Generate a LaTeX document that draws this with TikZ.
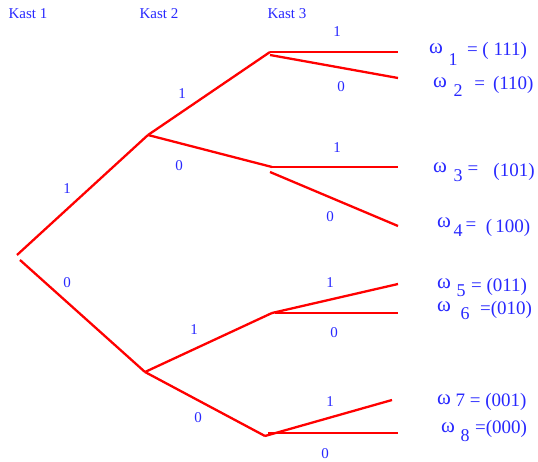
\documentclass[tikz,border=0pt]{standalone}
\usepackage{fontspec}
\setmainfont{Liberation Serif}
\usetikzlibrary{positioning}
\definecolor{lblBlue}{RGB}{40,40,255}
\tikzset{
  branch/.style={red, line width=2.3pt},
  kast/.style={lblBlue, font=\fontsize{15}{17}\selectfont, inner sep=0pt},
  bit/.style={lblBlue, font=\fontsize{15}{17}\selectfont, inner sep=0pt},
  omega/.style={lblBlue, font=\fontsize{19}{21}\selectfont, inner sep=0pt},
  omg/.style={lblBlue, font=\fontsize{21}{23}\selectfont, inner sep=0pt},
  sub/.style={lblBlue, font=\fontsize{18}{20}\selectfont, inner sep=0pt},
}

\begin{document}
\begin{tikzpicture}[x=1pt, y=-1pt]
\useasboundingbox (0,0) rectangle (538,462);

% headers
\node[kast] (k1) at (28,14) {Kast 1};
\node[kast] (k2) at (159,14) {Kast 2};
\node[kast] (k3) at (287,14) {Kast 3};

% tree points
\coordinate (r1) at (17,255);
\coordinate (r0) at (20,260);
\coordinate (a) at (148,135);
\coordinate (b) at (145,372);
\coordinate (a1) at (270,52);
\coordinate (a1x) at (270,55);
\coordinate (a0) at (272,167);
\coordinate (a0x) at (270,172);
\coordinate (b1) at (272,313);
\coordinate (b1x) at (275,313);
\coordinate (b0) at (265,436);
\coordinate (b0x) at (268,433);
\coordinate (e1) at (398,52);
\coordinate (e2) at (398,78);
\coordinate (e3) at (398,167);
\coordinate (e4) at (398,226);
\coordinate (e5) at (398,284);
\coordinate (e6) at (398,313);
\coordinate (e7) at (392,400);
\coordinate (e8) at (398,433);

% branches
\draw[branch] (r1) -- (a);
\draw[branch] (r0) -- (b);
\draw[branch] (a) -- (a1);
\draw[branch] (a) -- (a0);
\draw[branch] (b) -- (b1);
\draw[branch] (b) -- (b0);
\draw[branch] (a1) -- (e1);
\draw[branch] (a1x) -- (e2);
\draw[branch] (a0) -- (e3);
\draw[branch] (a0x) -- (e4);
\draw[branch] (b1) -- (e5);
\draw[branch] (b1x) -- (e6);
\draw[branch] (b0) -- (e7);
\draw[branch] (b0x) -- (e8);

% branch labels
\node[bit] (t1) at (67,189) {1};
\node[bit] (t0) at (67,283) {0};
\node[bit] (t11) at (182,94) {1};
\node[bit] (t10) at (179,166) {0};
\node[bit] (t01) at (194,330) {1};
\node[bit] (t00) at (198,418) {0};
\node[bit] (t111) at (337,32) {1};
\node[bit] (t110) at (341,87) {0};
\node[bit] (t101) at (337,148) {1};
\node[bit] (t100) at (330,217) {0};
\node[bit] (t011) at (330,283) {1};
\node[bit] (t010) at (334,333) {0};
\node[bit] (t001) at (330,402) {1};
\node[bit] (t000) at (325,454) {0};

% outcomes
\node[omg] (w1) at (436,49) {ω};
\node[sub] (s1) at (453,60) {1};
\node[omega] (v1) at (497,51) {= ( 111)};
\node[omg] (w2) at (440,83) {ω};
\node[sub] (s2) at (458,91) {2};
\node[omega] (v2) at (504,85) {=\, (110)};
\node[omg] (w3) at (440,168) {ω};
\node[sub] (s3) at (458,176) {3};
\node[omega] (v3) at (473,170) {=};
\node[omega] (p3) at (514,172) {(101)};
\node[omg] (w4) at (444,223) {ω};
\node[sub] (s4) at (458,231) {4};
\node[omega] (v4) at (471,226) {=};
\node[omega] (p4) at (508,228) {(\,100)};
\node[omg] (w5) at (444,284) {ω};
\node[sub] (s5) at (461,291) {5};
\node[omega] (v5) at (499,287) {= (011)};
\node[omg] (w6) at (444,307) {ω};
\node[sub] (s6) at (465,314) {6};
\node[omega] (v6) at (506,310) {=(010)};
\node[omg] (w7) at (444,400) {ω};
\node[omega] (v7) at (491,402) {7 = (001)};
\node[omg] (w8) at (448,428) {ω};
\node[sub] (s8) at (465,436) {8};
\node[omega] (v8) at (501,429) {=(000)};
\end{tikzpicture}
\end{document}
